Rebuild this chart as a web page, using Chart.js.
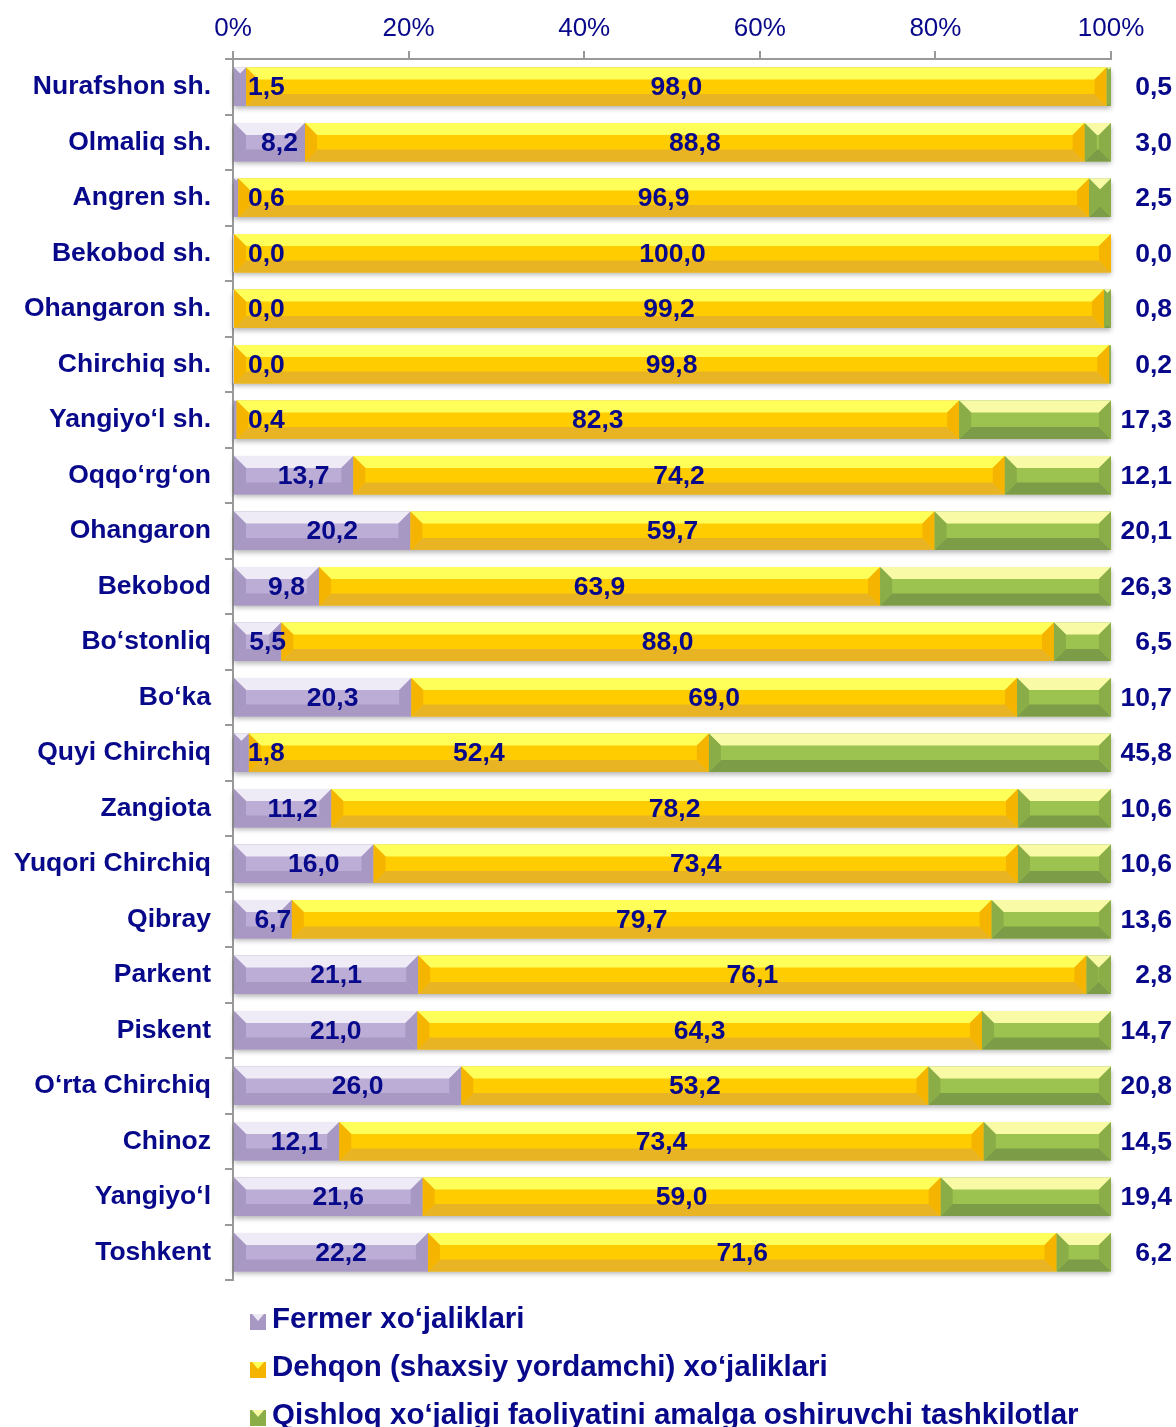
<!DOCTYPE html>
<html>
<head>
<meta charset="utf-8">
<style>
  html, body { margin: 0; padding: 0; background: #fff; }
</style>
<script src="https://cdn.jsdelivr.net/npm/chart.js@4/dist/chart.umd.min.js"></script>
</head>
<body>
<canvas id="chart" width="1176" height="1427"></canvas>
<script>
const districts = [
  'Nurafshon sh.', 'Olmaliq sh.', 'Angren sh.', 'Bekobod sh.', 'Ohangaron sh.',
  'Chirchiq sh.', 'Yangiyo‘l sh.', 'Oqqo‘rg‘on', 'Ohangaron', 'Bekobod',
  'Bo‘stonliq', 'Bo‘ka', 'Quyi Chirchiq', 'Zangiota', 'Yuqori Chirchiq',
  'Qibray', 'Parkent', 'Piskent', 'O‘rta Chirchiq', 'Chinoz', 'Yangiyo‘l', 'Toshkent'
]
const fermer    = [1.5, 8.2, 0.6, 0.0, 0.0, 0.0, 0.4, 13.7, 20.2, 9.8, 5.5, 20.3, 1.8, 11.2, 16.0, 6.7, 21.1, 21.0, 26.0, 12.1, 21.6, 22.2]
const dehqon    = [98.0, 88.8, 96.9, 100.0, 99.2, 99.8, 82.3, 74.2, 59.7, 63.9, 88.0, 69.0, 52.4, 78.2, 73.4, 79.7, 76.1, 64.3, 53.2, 73.4, 59.0, 71.6]
const tashkilot = [0.5, 3.0, 2.5, 0.0, 0.8, 0.2, 17.3, 12.1, 20.1, 26.3, 6.5, 10.7, 45.8, 10.6, 10.6, 13.6, 2.8, 14.7, 20.8, 14.5, 19.4, 6.2]
const tickLabels = ['0%', '20%', '40%', '60%', '80%', '100%']
const seriesNames = [
  'Fermer xo‘jaliklari',
  'Dehqon (shaxsiy yordamchi) xo‘jaliklari',
  'Qishloq xo‘jaligi faoliyatini amalga oshiruvchi tashkilotlar'
]

const FONT = "'Liberation Sans', Arial, sans-serif"
const NAVY = '#08088a'

// face / top / bottom / side shades for the bevelled bars
const shades = [
  { face: '#bbadd5', top: '#eeeaf6', bottom: '#a898c3', side: '#a797c3' },
  { face: '#ffcc00', top: '#ffff5a', bottom: '#e9b424', side: '#f4b400' },
  { face: '#9cc34f', top: '#f8faa6', bottom: '#7d9c47', side: '#8aad47' }
]

const fmt = v => v.toFixed(1).replace('.', ',')

const bevelPlugin = {
  id: 'bevel',
  beforeDatasetsDraw(chart) {
    const ctx = chart.ctx
    const first = chart.getDatasetMeta(0).data
    const last = chart.getDatasetMeta(2).data
    ctx.save()
    ctx.shadowColor = 'rgba(0,0,0,0.3)'
    ctx.shadowBlur = 5
    ctx.shadowOffsetY = 3
    ctx.fillStyle = '#ccc'
    first.forEach((bar, j) => {
      const h = bar.height
      const l = bar.base, r = last[j].x
      ctx.fillRect(l, bar.y - h / 2, r - l, h)
    })
    ctx.restore()
  },
  afterDatasetsDraw(chart) {
    const ctx = chart.ctx
    ctx.save()
    chart.data.datasets.forEach((ds, i) => {
      const s = shades[i]
      chart.getDatasetMeta(i).data.forEach(bar => {
        const x0 = Math.min(bar.base, bar.x), x1 = Math.max(bar.base, bar.x)
        const w = x1 - x0
        if (w < 0.5) return
        const y0 = bar.y - bar.height / 2, y1 = bar.y + bar.height / 2
        const b = Math.min(12, w / 2)
        const poly = (pts, col) => {
          ctx.beginPath()
          ctx.moveTo(pts[0][0], pts[0][1])
          pts.slice(1).forEach(p => ctx.lineTo(p[0], p[1]))
          ctx.closePath()
          ctx.fillStyle = col
          ctx.fill()
        }
        poly([[x0, y0], [x1, y0], [x1 - b, y0 + b], [x0 + b, y0 + b]], s.top)
        poly([[x0, y1], [x1, y1], [x1 - b, y1 - b], [x0 + b, y1 - b]], s.bottom)
        poly([[x0, y0], [x0 + b, y0 + b], [x0 + b, y1 - b], [x0, y1]], s.side)
        poly([[x1, y0], [x1 - b, y0 + b], [x1 - b, y1 - b], [x1, y1]], s.side)
      })
    })

    // value labels
    ctx.font = 'bold 26.5px ' + FONT
    ctx.fillStyle = NAVY
    ctx.textBaseline = 'middle'
    ctx.textAlign = 'center'
    const area = chart.chartArea
    chart.data.datasets.forEach((ds, i) => {
      chart.getDatasetMeta(i).data.forEach((bar, j) => {
        const txt = fmt(ds.data[j])
        const tw = ctx.measureText(txt).width
        let cx
        if (i === 0) {
          cx = Math.max((bar.base + bar.x) / 2 + 10, area.left + 15 + tw / 2)
        } else if (i === 1) {
          cx = (bar.base + bar.x) / 2
        } else {
          cx = chart.width - 4 - tw / 2
        }
        ctx.fillText(txt, cx, bar.y + 1)
      })
    })
    ctx.restore()
  },
  afterDraw(chart) {
    const ctx = chart.ctx
    const area = chart.chartArea
    ctx.save()
    ctx.font = 'bold 29.5px ' + FONT
    ctx.textBaseline = 'middle'
    ctx.textAlign = 'left'
    chart.data.datasets.forEach((ds, i) => {
      const s = shades[i]
      const yc = area.bottom + 40 + i * 48
      const mx = area.left + 17, sz = 16
      const top = yc - sz / 2 + 2
      ctx.fillStyle = s.side
      ctx.fillRect(mx, top, sz, sz)
      ctx.fillStyle = s.top
      ctx.beginPath()
      ctx.moveTo(mx + 2, top)
      ctx.lineTo(mx + sz - 2, top)
      ctx.lineTo(mx + sz / 2, top + 7)
      ctx.closePath()
      ctx.fill()
      ctx.fillStyle = NAVY
      ctx.fillText(ds.label, mx + sz + 6, yc)
    })
    ctx.restore()
  }
}

const makeSet = (i, data) => ({
  label: seriesNames[i],
  data: data,
  backgroundColor: shades[i].face,
  borderWidth: 0,
  barPercentage: 0.69,
  categoryPercentage: 1.0
})

new Chart(document.getElementById('chart'), {
  type: 'bar',
  data: {
    labels: districts,
    datasets: [makeSet(0, fermer), makeSet(1, dehqon), makeSet(2, tashkilot)]
  },
  options: {
    indexAxis: 'y',
    responsive: false,
    animation: false,
    devicePixelRatio: 1,
    layout: { padding: { left: 0, top: 0, right: 65, bottom: 147 } },
    plugins: { legend: { display: false }, tooltip: { enabled: false } },
    scales: {
      x: {
        position: 'top',
        stacked: true,
        min: 0,
        max: 100,
        ticks: {
          stepSize: 20,
          callback: (v, idx) => tickLabels[idx],
          color: NAVY,
          font: { size: 26, family: FONT },
          padding: 7
        },
        grid: { drawOnChartArea: false, tickLength: 8, color: '#999', lineWidth: 2 },
        border: { color: '#999', width: 2 },
        afterFit: s => { s.height = 59 }
      },
      y: {
        stacked: true,
        ticks: {
          color: NAVY,
          font: { size: 26.5, weight: 'bold', family: FONT },
          padding: 14
        },
        grid: { drawOnChartArea: false, tickLength: 8, offset: true, color: '#999', lineWidth: 2 },
        border: { color: '#999', width: 2 },
        afterFit: s => { s.width = 233 }
      }
    }
  },
  plugins: [bevelPlugin]
})
</script>
</body>
</html>
